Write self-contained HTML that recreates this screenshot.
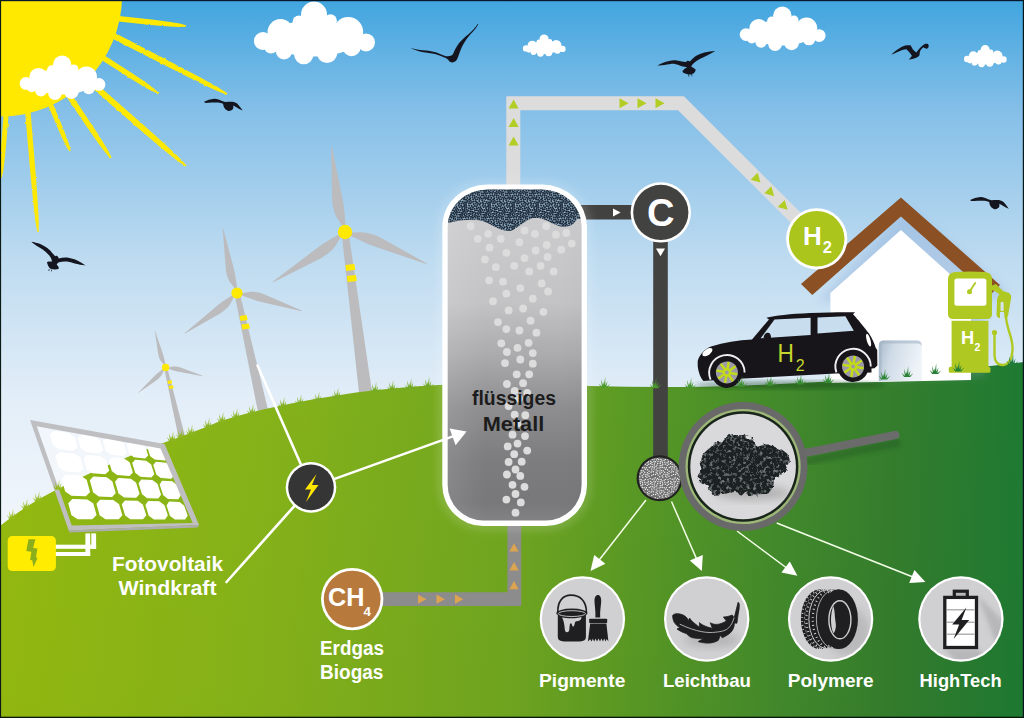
<!DOCTYPE html>
<html><head><meta charset="utf-8"><title>Methanpyrolyse</title>
<style>
html,body{margin:0;padding:0;background:#1b2a38;overflow:hidden}
svg{display:block}
text{font-family:"Liberation Sans",sans-serif;}
</style></head><body>
<svg width="1024" height="718" viewBox="0 0 1024 718">
<defs>
<linearGradient id="sky" gradientUnits="userSpaceOnUse" x1="0" y1="0" x2="0" y2="520">
<stop offset="0" stop-color="#41a5df"/>
<stop offset="0.21" stop-color="#84bfe8"/>
<stop offset="0.5" stop-color="#bedbf0"/>
<stop offset="0.77" stop-color="#e3eef8"/>
<stop offset="1" stop-color="#f0f5fb"/>
</linearGradient>
<linearGradient id="hill" x1="0" y1="0" x2="1" y2="0">
<stop offset="0" stop-color="#94ba10"/>
<stop offset="0.25" stop-color="#86b319"/>
<stop offset="0.5" stop-color="#70a620"/>
<stop offset="0.61" stop-color="#5b9a24"/>
<stop offset="0.75" stop-color="#448b2b"/>
<stop offset="0.875" stop-color="#347d2d"/>
<stop offset="1" stop-color="#1e7a32"/>
</linearGradient>
<linearGradient id="hillv" x1="0" y1="0" x2="0" y2="1">
<stop offset="0" stop-color="#000" stop-opacity="0"/>
<stop offset="1" stop-color="#000" stop-opacity="0.02"/>
</linearGradient>
<linearGradient id="tank" x1="0" y1="0" x2="0" y2="1">
<stop offset="0" stop-color="#d0d0d2"/>
<stop offset="0.35" stop-color="#c3c3c5"/>
<stop offset="0.5" stop-color="#ababad"/>
<stop offset="0.65" stop-color="#8e8e90"/>
<stop offset="0.8" stop-color="#7d7d7f"/>
<stop offset="0.92" stop-color="#78787a"/>
<stop offset="1" stop-color="#868688"/>
</linearGradient>
<pattern id="dots" width="3" height="3" patternUnits="userSpaceOnUse">
<rect width="3" height="3" fill="#a9c4d8"/>
<circle cx="1" cy="1" r="1.05" fill="#1f2f3f"/>
<circle cx="2.5" cy="2.5" r="0.8" fill="#1f2f3f"/>
</pattern>
<pattern id="dots2" width="2.4" height="2.4" patternUnits="userSpaceOnUse">
<rect width="2.4" height="2.4" fill="#8a8a8a"/>
<circle cx="1" cy="1" r="0.8" fill="#e8e8e8"/>
</pattern>
<filter id="blur2" x="-20%" y="-20%" width="140%" height="140%"><feGaussianBlur stdDeviation="2"/></filter>
<filter id="blur4" x="-30%" y="-30%" width="160%" height="160%"><feGaussianBlur stdDeviation="4"/></filter>
<filter id="blur1" x="-20%" y="-20%" width="140%" height="140%"><feGaussianBlur stdDeviation="0.8"/></filter>
<linearGradient id="tankh" x1="0" y1="0" x2="1" y2="0">
<stop offset="0" stop-color="#fff" stop-opacity="0.12"/>
<stop offset="0.3" stop-color="#fff" stop-opacity="0"/>
<stop offset="0.8" stop-color="#000" stop-opacity="0"/>
<stop offset="1" stop-color="#000" stop-opacity="0.02"/>
</linearGradient>
</defs>

<rect x="0" y="0" width="1024" height="718" fill="url(#sky)"/>
<filter id="crayon" x="-5%" y="-5%" width="110%" height="110%"><feTurbulence type="fractalNoise" baseFrequency="0.25" numOctaves="2" seed="2" result="t"/><feDisplacementMap in="SourceGraphic" in2="t" scale="2.2" xChannelSelector="R" yChannelSelector="G"/></filter>
<g fill="#ffe900" filter="url(#crayon)">
<path d="M114.8 20.9 L120.7 21.8 L153.2 25.2 L169.5 26.6 L179.3 27.1 L185.9 26.7 L186.1 25.3 L179.7 23.5 L170.0 21.9 L153.8 19.8 L121.3 16.2 L115.3 15.8 Z"/>
<path d="M109.4 36.7 L114.6 39.7 L170.2 68.1 L198.1 82.0 L215.0 90.0 L226.6 94.7 L227.4 93.3 L216.8 86.6 L200.4 77.5 L172.8 62.9 L117.4 34.3 L111.9 31.8 Z"/>
<path d="M98.6 57.9 L103.5 61.3 L130.1 78.2 L143.5 86.4 L151.8 91.0 L157.6 93.6 L158.4 92.4 L153.6 88.2 L146.0 82.6 L132.9 73.8 L106.5 56.7 L101.3 53.7 Z"/>
<path d="M92.6 88.2 L97.0 92.3 L140.6 130.2 L162.6 148.9 L176.0 159.8 L185.5 166.6 L186.5 165.4 L178.6 157.0 L165.9 145.1 L144.4 125.8 L101.0 87.7 L96.3 83.9 Z"/>
<path d="M66.6 96.4 L69.7 101.5 L89.3 130.5 L99.4 144.8 L105.7 153.1 L110.4 158.4 L111.6 157.6 L108.5 151.3 L103.1 142.2 L93.7 127.5 L74.3 98.5 L70.7 93.6 Z"/>
<path d="M47.6 103.4 L49.7 109.0 L58.8 130.4 L63.6 141.0 L66.8 147.3 L69.4 151.2 L70.6 150.8 L69.6 146.1 L67.4 139.5 L63.2 128.6 L54.3 107.0 L51.8 101.6 Z"/>
<path d="M25.0 108.2 L25.3 114.2 L30.4 173.2 L33.3 202.7 L35.3 220.3 L37.3 232.1 L38.7 231.9 L38.7 220.1 L37.7 202.3 L35.6 172.8 L30.7 113.8 L30.0 107.8 Z"/>
<path d="M4.2 109.8 L3.5 115.8 L1.1 146.8 L0.2 162.3 L-0.1 171.7 L0.4 177.9 L1.6 178.1 L3.1 171.9 L4.3 162.7 L5.9 147.2 L8.5 116.2 L8.8 110.2 Z"/>
</g>
<circle cx="0.5" cy="-5" r="121.6" fill="#ffe900"/>

<defs>
<g id="cloud" fill="#fff">
<circle cx="60" cy="11.6" r="13"/><circle cx="45" cy="18.9" r="6.4"/><circle cx="76.5" cy="17.7" r="6.4"/>
<circle cx="26.5" cy="29.1" r="13"/><circle cx="8.9" cy="38" r="9"/><circle cx="94.2" cy="29.1" r="15"/>
<circle cx="112" cy="39.4" r="9"/><circle cx="30" cy="48.3" r="8.2"/><circle cx="49.8" cy="51.7" r="9.6"/>
<circle cx="73" cy="49.6" r="10.4"/><circle cx="97.6" cy="44.2" r="9"/><circle cx="17" cy="43.5" r="7"/>
<ellipse cx="59.4" cy="35.5" rx="45" ry="18"/>
</g>
</defs>
<use href="#cloud" transform="translate(254,3)"/>
<use href="#cloud" transform="translate(19.7,56.5) scale(0.708)"/>
<use href="#cloud" transform="translate(739.8,7.6) scale(0.709)"/>
<use href="#cloud" transform="translate(522.9,35) scale(0.353)"/>
<use href="#cloud" transform="translate(964,45.6) scale(0.353)"/>

<g fill="#15151f">
<path d="M410.5 47.7 C416 49.5 421 50.2 426.4 50.6 C431 51 436 52.3 439.5 53.7 C443 55 446 56.6 447.9 56.3 C450 56 451.8 55.5 452.7 54.5 C454 52 455 49.5 456.2 47.5 C457.5 45 459.5 42.5 461.5 40.5 C464.5 37.5 467.5 35.2 470.3 32.6 C473.3 29.8 476 26.8 477.8 23.8 L478.3 24.3 C476.8 27 475 29.5 472.9 31.7 C470 34.8 467 38 465 41.4 C463 44.5 461.5 47.5 460.6 50.1 C459.5 53 458.8 55.5 457.6 58 C456.5 61 454.5 62.6 451.8 62.4 C450 62.2 448.8 61 448.3 59.8 C447 58.5 445.5 57.7 443.9 57.2 C441 56 438 55 435.1 54.1 C431 53 426.5 52.5 422 51.9 C418 51.2 414 49.8 410.5 47.7 Z"/>
<g id="bird2"><path d="M204.1 101.7 C207 100.4 210.5 99.2 214.3 98.8 C217 98.6 219.3 99.8 221.4 100.8 C223 101.5 224.3 101.9 225.5 102 C228.2 102 231 101.7 233.7 102 C235.6 102.4 237.2 103.4 238.4 104.9 C240 106.8 241.5 108.8 242.7 110.5 C240.7 109.8 238.8 108.8 237.2 107.8 C235.8 106.8 234.4 105.9 233.1 105.5 C233.6 107 233.4 108.7 232.5 109.6 C231.2 110.9 229.3 111.3 227.8 110.8 C226 110 225 109 224.3 107.8 C223.5 106.3 223.3 105 223.1 103.7 C221.7 103.3 220 102.9 218.4 102.6 C216 102.4 213.5 102.5 211.4 102.6 C209.5 102.8 207.8 102.9 206.1 102.9 C205 102.8 204.3 102.3 204.1 101.7 Z"/></g>
<use href="#bird2" transform="translate(766.1,98.2)"/>
<path d="M31.3 241.7 C34 242 37.5 243 40.3 244.1 C43 245.3 45.4 246.6 47.3 248 C49.3 249.5 50.8 251.2 52 252.7 C53.2 254 54.3 255.3 55.2 256.2 C56 255.7 56.9 255.7 57.5 256.2 C58.2 256.8 58.6 257.7 58.7 258.5 C62 257.5 65.3 257.3 68.4 257.7 C71.2 258.1 73.8 259 76.3 260.1 C79.5 261.7 82.7 263.6 85.6 265.5 C81.8 265.2 78.1 264.4 74.7 263.6 C72 262.8 69.4 262 66.9 261.6 C64 261.3 61 261.8 58.3 262.4 C57.6 263 57 263.7 56.7 264.4 C57.8 265.6 58.8 267 59.1 268.3 C57.8 269.2 56.2 269.6 54.4 269.5 C52.6 269.5 51 269 49.7 268.3 C48.3 266.4 47.3 264.2 47 262 C48.6 261.6 50.4 261.5 52 261.6 C51.8 260 51.3 258.6 50.5 257.3 C49.3 255.3 47.6 253.5 45.8 251.9 C43.9 250.2 41.7 248.8 39.5 247.6 C36.6 245.8 33.5 243.8 31.3 241.7 Z"/>
<path d="M49.2 269 L48.8 271 M51.6 269.4 L51.4 271.4" stroke="#15151f" stroke-width="0.7" fill="none"/>
<path d="M657.3 65.4 C659.5 64.2 662 63.1 664.5 62.3 C667.5 61.2 670.8 60.4 673.9 60.2 C676.7 60.2 679.3 60.9 681.7 61.5 C683.3 61.8 685 62 686.4 61.9 C686.5 61.2 686.8 60.8 687.2 60.7 C688.2 60.5 689.3 60.9 689.9 61.5 C691.7 59.5 693.7 57.6 695.8 56 C698.4 54.4 701.4 53.3 704.4 52.5 C708 51.6 711.7 51.1 715.3 50.9 C712.7 52.5 710 53.9 707.5 55.2 C704.8 56.5 702.2 57.7 699.7 59.1 C697.5 60.4 695.3 61.8 693.4 63.4 C692.5 64.3 691.7 65.4 691.1 66.6 C692.9 67.4 694.5 68.5 695.8 69.7 C695.5 71.2 694.6 72.5 693.4 73.6 C692 74.4 690.4 74.6 688.8 74.4 C686.8 74.3 684.9 73.7 683.3 72.8 C682.7 72.2 682.5 71.5 682.5 70.9 C683.8 69.4 685.4 68.2 687.2 67.3 C685.4 66.8 683.5 66.4 681.7 66.2 C679.2 65.2 676.5 64.2 673.9 63.8 C670.8 63.8 667.6 64.4 664.5 65 C662 65.4 659.5 65.6 657.3 65.4 Z"/>
<path d="M688.6 74.2 L688.8 76.6 M691.6 74 L692 76.3" stroke="#15151f" stroke-width="0.7" fill="none"/>
<path d="M891.4 54.6 C893.5 52.3 896 50.3 898.7 48.7 C900.8 47.4 903 46.2 905.2 45.5 C907 45.1 908.9 45 910.5 45.3 C911.3 46.6 912 48 912.8 49.3 C913.8 50.6 915 51.8 916.3 52.6 C917.5 50.8 918.9 49.1 920.4 47.6 C921.8 46.1 923.4 44.7 925.1 43.8 C926.1 43.5 927.2 43.6 928 44.1 C928.7 45 928.9 46 928.6 47 C928.3 47.9 927.7 48.5 926.9 48.7 C925.6 48.6 924.4 48 923.4 47.3 C922.2 48.2 921.2 49.3 920.4 50.5 C919.8 52 919.5 53.6 919.5 55.2 C918.7 56.4 917.6 57.3 916.3 57.8 C913.8 58.7 911.2 59.3 908.7 59.6 C910 58.5 911.2 57.2 911.9 55.8 C911.2 54.5 910.3 53.4 909.3 52.3 C908.5 51.2 907.5 50.1 906.4 49.3 C905 49.3 903.6 49.5 902.3 49.9 C900.3 50.7 898.3 51.6 896.4 52.6 C894.7 53.4 893 54.2 891.4 54.6 Z"/>
</g>

<!-- turbines (behind hill) -->
<g fill="#bcbcbe">
<path d="M341.5 232.0 L348.5 232.0 L373.2 400.0 L359.8 400.0 Z"/>
<path transform="translate(345.0 232.0) rotate(-8.9) scale(87.1)" d="M0.015 -0.05 C0.03 -0.2 0.036 -0.3 0.03 -0.4 L0.004 -1 L-0.004 -1 L-0.085 -0.42 C-0.1 -0.32 -0.09 -0.22 -0.055 -0.15 C-0.035 -0.11 -0.022 -0.08 -0.015 -0.05 Z"/>
<path transform="translate(345.0 232.0) rotate(111.3) scale(88.0)" d="M0.015 -0.05 C0.03 -0.2 0.036 -0.3 0.03 -0.4 L0.004 -1 L-0.004 -1 L-0.085 -0.42 C-0.1 -0.32 -0.09 -0.22 -0.055 -0.15 C-0.035 -0.11 -0.022 -0.08 -0.015 -0.05 Z"/>
<path transform="translate(345.0 232.0) rotate(-124.8) scale(87.7)" d="M0.015 -0.05 C0.03 -0.2 0.036 -0.3 0.03 -0.4 L0.004 -1 L-0.004 -1 L-0.085 -0.42 C-0.1 -0.32 -0.09 -0.22 -0.055 -0.15 C-0.035 -0.11 -0.022 -0.08 -0.015 -0.05 Z"/>
<path d="M234.3 293.0 L239.7 293.0 L271.0 422.0 L260.0 422.0 Z"/>
<path transform="translate(237.0 293.0) rotate(-12.3) scale(65.9)" d="M0.015 -0.05 C0.03 -0.2 0.036 -0.3 0.03 -0.4 L0.004 -1 L-0.004 -1 L-0.085 -0.42 C-0.1 -0.32 -0.09 -0.22 -0.055 -0.15 C-0.035 -0.11 -0.022 -0.08 -0.015 -0.05 Z"/>
<path transform="translate(237.0 293.0) rotate(105.5) scale(67.4)" d="M0.015 -0.05 C0.03 -0.2 0.036 -0.3 0.03 -0.4 L0.004 -1 L-0.004 -1 L-0.085 -0.42 C-0.1 -0.32 -0.09 -0.22 -0.055 -0.15 C-0.035 -0.11 -0.022 -0.08 -0.015 -0.05 Z"/>
<path transform="translate(237.0 293.0) rotate(-127.7) scale(66.4)" d="M0.015 -0.05 C0.03 -0.2 0.036 -0.3 0.03 -0.4 L0.004 -1 L-0.004 -1 L-0.085 -0.42 C-0.1 -0.32 -0.09 -0.22 -0.055 -0.15 C-0.035 -0.11 -0.022 -0.08 -0.015 -0.05 Z"/>
<path d="M164.0 367.5 L167.2 367.5 L186.5 442.0 L179.5 442.0 Z"/>
<path transform="translate(165.6 367.5) rotate(-16.2) scale(38.0)" d="M0.015 -0.05 C0.03 -0.2 0.036 -0.3 0.03 -0.4 L0.004 -1 L-0.004 -1 L-0.085 -0.42 C-0.1 -0.32 -0.09 -0.22 -0.055 -0.15 C-0.035 -0.11 -0.022 -0.08 -0.015 -0.05 Z"/>
<path transform="translate(165.6 367.5) rotate(102.9) scale(38.0)" d="M0.015 -0.05 C0.03 -0.2 0.036 -0.3 0.03 -0.4 L0.004 -1 L-0.004 -1 L-0.085 -0.42 C-0.1 -0.32 -0.09 -0.22 -0.055 -0.15 C-0.035 -0.11 -0.022 -0.08 -0.015 -0.05 Z"/>
<path transform="translate(165.6 367.5) rotate(-132.7) scale(37.6)" d="M0.015 -0.05 C0.03 -0.2 0.036 -0.3 0.03 -0.4 L0.004 -1 L-0.004 -1 L-0.085 -0.42 C-0.1 -0.32 -0.09 -0.22 -0.055 -0.15 C-0.035 -0.11 -0.022 -0.08 -0.015 -0.05 Z"/>
</g>
<g fill="#ffe900">
<circle cx="345" cy="232" r="7.2"/><circle cx="237" cy="293" r="5.6"/><circle cx="165.6" cy="367.5" r="3.7"/>
<path d="M345.4 265 L354.4 264 L355.2 270 L346.2 271 Z M346.8 276 L356 275 L356.8 281 L347.6 282 Z"/>
<path d="M239.6 316 L246.6 315 L247.6 320 L240.6 321 Z M241.4 324.5 L248.8 323.5 L249.8 328.5 L242.4 329.5 Z"/>
<path d="M167.4 381 L171.6 380.3 L172.2 383.3 L168 384 Z M168.6 386 L173 385.3 L173.6 388.3 L169.2 389 Z"/>
</g>

<path d="M36.7 426.3 L160.5 448.5 L192.7 523.1 L71.8 525.4 Z" fill="#fff" opacity="0.4"/>

<!-- hill -->
<path id="hillp" d="M0 526 C10 518 20 511 31 504 C60 486 110 463 163 443 C182 436 200 430 219 421.5 C236 416 252 412 270 408 C298 402 326 397 356 392.6 C384 389 412 386.5 438 385 C490 383 540 384.5 590 386 C620 386.8 650 387.2 680 387 C714 386.4 748 385.5 780 384 C813 382.4 846 380.8 876 379 C902 377 926 374.3 950 371 C975 367.8 1000 365 1024 362 L1024 718 L0 718 Z" fill="url(#hill)"/>
<path d="M0 526 C10 518 20 511 31 504 C60 486 110 463 163 443 C182 436 200 430 219 421.5 C236 416 252 412 270 408 C298 402 326 397 356 392.6 C384 389 412 386.5 438 385 C490 383 540 384.5 590 386 C620 386.8 650 387.2 680 387 C714 386.4 748 385.5 780 384 C813 382.4 846 380.8 876 379 C902 377 926 374.3 950 371 C975 367.8 1000 365 1024 362 L1024 718 L0 718 Z" fill="url(#hillv)"/>

<!-- light pipe to H2 -->
<path d="M513.3 190 L513.3 103.2 L681 103.2 L800 222" fill="none" stroke="#dcdcdc" stroke-width="14" stroke-linejoin="miter"/>
<g fill="#b2ce24">
<path d="M508.6 108.5 L518.6 108.5 L513.6 99.5 Z M508.6 127 L518.6 127 L513.6 118 Z M508.6 145.5 L518.6 145.5 L513.6 136.5 Z"/>
<path d="M619.5 98.2 L619.5 108.2 L628.5 103.2 Z M637.5 98.2 L637.5 108.2 L646.5 103.2 Z M655.5 98.2 L655.5 108.2 L664.5 103.2 Z"/>
<g transform="translate(757.3,179.4) rotate(45)"><path d="M-4.5 -5 L-4.5 5 L4.5 0 Z"/></g>
<g transform="translate(771,193) rotate(45)"><path d="M-4.5 -5 L-4.5 5 L4.5 0 Z"/></g>
<g transform="translate(784.4,206.6) rotate(45)"><path d="M-4.5 -5 L-4.5 5 L4.5 0 Z"/></g>
</g>
<!-- dark pipes -->
<path d="M580 212.3 L660 212.3" stroke="#424241" stroke-width="14.6" fill="none"/>
<path d="M660.5 212 L660.5 470" stroke="#424241" stroke-width="14.6" fill="none"/>
<path d="M613 208.4 L613 216.4 L620.6 212.4 Z" fill="#fff"/>
<path d="M656 248.6 L665 248.6 L660.5 256.2 Z" fill="#fff"/>
<!-- CH4 pipe -->
<path d="M352 599.2 L514.3 599.2 L514.3 520" fill="none" stroke="#8c8c8c" stroke-width="13.8" stroke-linejoin="miter"/>
<g fill="#dca450">
<path d="M418 594.6 L418 603.8 L426.4 599.2 Z M436.5 594.6 L436.5 603.8 L444.9 599.2 Z M455 594.6 L455 603.8 L463.4 599.2 Z"/>
<path d="M509.4 551.6 L518.6 551.6 L514 543.2 Z M509.4 570.4 L518.6 570.4 L514 562 Z M509.4 589.3 L518.6 589.3 L514 580.9 Z"/>
</g>

<!-- tank -->
<defs><pattern id="rdots" width="24" height="24" patternUnits="userSpaceOnUse"><rect width="24" height="24" fill="#9fbdd4"/><g fill="#1c2a39"><circle cx="14.9" cy="17.8" r="1.05"/><circle cx="19.1" cy="22.6" r="1.05"/><circle cx="0.7" cy="11.2" r="1.05"/><circle cx="24.7" cy="11.2" r="1.05"/><circle cx="22.6" cy="15.6" r="1.05"/><circle cx="21.6" cy="2.7" r="1.05"/><circle cx="11.3" cy="5.9" r="1.05"/><circle cx="13.1" cy="13.8" r="1.05"/><circle cx="0.3" cy="5.2" r="1.05"/><circle cx="24.3" cy="5.2" r="1.05"/><circle cx="6.7" cy="22.0" r="1.05"/><circle cx="18.4" cy="3.8" r="1.05"/><circle cx="14.8" cy="3.0" r="1.05"/><circle cx="0.0" cy="20.9" r="1.05"/><circle cx="24.0" cy="20.9" r="1.05"/><circle cx="5.0" cy="5.2" r="1.05"/><circle cx="12.9" cy="16.3" r="1.05"/><circle cx="4.9" cy="22.6" r="1.05"/><circle cx="16.6" cy="-0.8" r="1.05"/><circle cx="16.6" cy="23.2" r="1.05"/><circle cx="21.4" cy="7.2" r="1.05"/><circle cx="8.7" cy="4.0" r="1.05"/><circle cx="3.5" cy="1.6" r="1.05"/><circle cx="7.2" cy="14.5" r="1.05"/><circle cx="8.1" cy="7.4" r="1.05"/><circle cx="19.6" cy="11.5" r="1.05"/><circle cx="7.6" cy="11.5" r="1.05"/><circle cx="16.9" cy="1.4" r="1.05"/><circle cx="-0.6" cy="0.5" r="1.05"/><circle cx="-0.6" cy="24.5" r="1.05"/><circle cx="23.4" cy="0.5" r="1.05"/><circle cx="23.4" cy="24.5" r="1.05"/><circle cx="18.0" cy="20.3" r="1.05"/><circle cx="0.4" cy="18.9" r="1.05"/><circle cx="24.4" cy="18.9" r="1.05"/><circle cx="4.7" cy="18.1" r="1.05"/><circle cx="22.3" cy="22.6" r="1.05"/><circle cx="12.6" cy="18.6" r="1.05"/><circle cx="2.6" cy="18.0" r="1.05"/><circle cx="0.9" cy="22.7" r="1.05"/><circle cx="24.9" cy="22.7" r="1.05"/><circle cx="2.2" cy="8.2" r="1.05"/><circle cx="14.7" cy="22.0" r="1.05"/><circle cx="13.1" cy="7.5" r="1.05"/><circle cx="1.9" cy="3.6" r="1.05"/><circle cx="-0.3" cy="12.8" r="1.05"/><circle cx="23.7" cy="12.8" r="1.05"/><circle cx="14.3" cy="19.8" r="1.05"/><circle cx="10.9" cy="10.1" r="1.05"/><circle cx="2.6" cy="10.4" r="1.05"/><circle cx="3.6" cy="20.3" r="1.05"/><circle cx="9.0" cy="-0.3" r="1.05"/><circle cx="9.0" cy="23.7" r="1.05"/><circle cx="8.7" cy="18.9" r="1.05"/><circle cx="18.6" cy="16.7" r="1.05"/><circle cx="8.7" cy="16.9" r="1.05"/><circle cx="15.6" cy="13.9" r="1.05"/><circle cx="6.0" cy="16.1" r="1.05"/><circle cx="11.1" cy="19.6" r="1.05"/><circle cx="20.9" cy="16.5" r="1.05"/><circle cx="22.5" cy="11.5" r="1.05"/><circle cx="16.6" cy="17.3" r="1.05"/><circle cx="18.7" cy="13.9" r="1.05"/><circle cx="16.0" cy="10.1" r="1.05"/><circle cx="10.6" cy="15.6" r="1.05"/><circle cx="15.1" cy="1.0" r="1.05"/><circle cx="15.1" cy="25.0" r="1.05"/><circle cx="6.7" cy="9.8" r="1.05"/><circle cx="14.6" cy="8.4" r="1.05"/><circle cx="2.6" cy="13.6" r="1.05"/><circle cx="9.0" cy="10.4" r="1.05"/><circle cx="5.4" cy="7.0" r="1.05"/><circle cx="-0.7" cy="9.1" r="1.05"/><circle cx="23.3" cy="9.1" r="1.05"/><circle cx="14.3" cy="6.2" r="1.05"/><circle cx="10.0" cy="7.7" r="1.05"/><circle cx="18.8" cy="5.9" r="1.05"/><circle cx="6.4" cy="3.7" r="1.05"/><circle cx="-0.3" cy="7.0" r="1.05"/><circle cx="23.7" cy="7.0" r="1.05"/><circle cx="14.6" cy="11.4" r="1.05"/><circle cx="10.9" cy="22.0" r="1.05"/><circle cx="21.3" cy="13.1" r="1.05"/><circle cx="10.3" cy="13.8" r="1.05"/><circle cx="17.0" cy="15.2" r="1.05"/><circle cx="20.4" cy="4.7" r="1.05"/><circle cx="7.1" cy="19.9" r="1.05"/><circle cx="19.5" cy="1.6" r="1.05"/><circle cx="1.7" cy="1.4" r="1.05"/><circle cx="1.3" cy="16.7" r="1.05"/><circle cx="3.6" cy="15.2" r="1.05"/><circle cx="12.4" cy="3.2" r="1.05"/><circle cx="17.8" cy="9.5" r="1.05"/><circle cx="3.7" cy="3.8" r="1.05"/><circle cx="5.6" cy="11.6" r="1.05"/><circle cx="5.5" cy="1.9" r="1.05"/><circle cx="13.2" cy="-0.2" r="1.05"/><circle cx="13.2" cy="23.8" r="1.05"/><circle cx="9.5" cy="1.4" r="1.05"/><circle cx="7.3" cy="1.2" r="1.05"/><circle cx="19.7" cy="7.5" r="1.05"/><circle cx="22.5" cy="19.1" r="1.05"/><circle cx="20.4" cy="14.8" r="1.05"/><circle cx="4.4" cy="9.3" r="1.05"/><circle cx="17.1" cy="7.4" r="1.05"/><circle cx="19.9" cy="21.1" r="1.05"/><circle cx="11.5" cy="8.5" r="1.05"/><circle cx="1.8" cy="6.5" r="1.05"/><circle cx="12.4" cy="1.3" r="1.05"/><circle cx="10.1" cy="12.1" r="1.05"/><circle cx="10.8" cy="17.7" r="1.05"/><circle cx="21.0" cy="10.5" r="1.05"/><circle cx="3.5" cy="6.4" r="1.05"/><circle cx="6.8" cy="17.9" r="1.05"/><circle cx="-0.6" cy="3.1" r="1.05"/><circle cx="23.4" cy="3.1" r="1.05"/><circle cx="17.6" cy="12.1" r="1.05"/><circle cx="19.0" cy="18.5" r="1.05"/><circle cx="12.8" cy="11.5" r="1.05"/><circle cx="16.5" cy="5.2" r="1.05"/><circle cx="10.6" cy="3.6" r="1.05"/><circle cx="9.4" cy="20.6" r="1.05"/><circle cx="14.7" cy="16.1" r="1.05"/><circle cx="3.2" cy="22.7" r="1.05"/><circle cx="20.5" cy="-0.3" r="1.05"/><circle cx="20.5" cy="23.7" r="1.05"/><circle cx="7.0" cy="6.1" r="1.05"/><circle cx="22.3" cy="5.5" r="1.05"/><circle cx="5.1" cy="13.9" r="1.05"/><circle cx="16.1" cy="19.7" r="1.05"/><circle cx="19.8" cy="9.3" r="1.05"/><circle cx="8.7" cy="5.8" r="1.05"/><circle cx="1.8" cy="20.4" r="1.05"/><circle cx="0.5" cy="15.1" r="1.05"/><circle cx="24.5" cy="15.1" r="1.05"/><circle cx="13.0" cy="21.8" r="1.05"/><circle cx="16.6" cy="21.4" r="1.05"/><circle cx="20.9" cy="18.3" r="1.05"/><circle cx="3.4" cy="11.9" r="1.05"/><circle cx="4.6" cy="0.3" r="1.05"/><circle cx="4.6" cy="24.3" r="1.05"/><circle cx="13.6" cy="4.5" r="1.05"/><circle cx="10.8" cy="0.2" r="1.05"/><circle cx="10.8" cy="24.2" r="1.05"/><circle cx="8.4" cy="22.1" r="1.05"/><circle cx="8.5" cy="13.1" r="1.05"/><circle cx="-0.3" cy="17.3" r="1.05"/><circle cx="23.7" cy="17.3" r="1.05"/><circle cx="8.9" cy="15.0" r="1.05"/><circle cx="21.8" cy="21.0" r="1.05"/><circle cx="5.5" cy="20.7" r="1.05"/><circle cx="16.7" cy="3.2" r="1.05"/><circle cx="18.5" cy="0.2" r="1.05"/><circle cx="18.5" cy="24.2" r="1.05"/><circle cx="6.3" cy="-0.3" r="1.05"/><circle cx="6.3" cy="23.7" r="1.05"/><circle cx="21.8" cy="1.0" r="1.05"/><circle cx="21.8" cy="25.0" r="1.05"/><circle cx="13.3" cy="9.7" r="1.05"/></g></pattern>
<pattern id="rdots2" width="20" height="20" patternUnits="userSpaceOnUse"><rect width="20" height="20" fill="#6e6e6e"/><g fill="#ececec"><circle cx="9.3" cy="7.5" r="0.72"/><circle cx="2.8" cy="17.3" r="0.72"/><circle cx="0.1" cy="10.1" r="0.72"/><circle cx="20.1" cy="10.1" r="0.72"/><circle cx="18.0" cy="1.6" r="0.72"/><circle cx="11.1" cy="12.3" r="0.72"/><circle cx="0.8" cy="7.6" r="0.72"/><circle cx="14.1" cy="9.0" r="0.72"/><circle cx="14.5" cy="3.1" r="0.72"/><circle cx="4.8" cy="2.2" r="0.72"/><circle cx="10.1" cy="18.5" r="0.72"/><circle cx="11.8" cy="15.5" r="0.72"/><circle cx="7.7" cy="14.9" r="0.72"/><circle cx="2.0" cy="5.8" r="0.72"/><circle cx="13.5" cy="14.5" r="0.72"/><circle cx="8.4" cy="1.8" r="0.72"/><circle cx="5.3" cy="4.2" r="0.72"/><circle cx="5.6" cy="16.2" r="0.72"/><circle cx="7.6" cy="9.8" r="0.72"/><circle cx="11.9" cy="2.4" r="0.72"/><circle cx="4.1" cy="0.2" r="0.72"/><circle cx="4.1" cy="20.2" r="0.72"/><circle cx="1.7" cy="10.8" r="0.72"/><circle cx="0.3" cy="1.7" r="0.72"/><circle cx="20.3" cy="1.7" r="0.72"/><circle cx="12.2" cy="19.2" r="0.72"/><circle cx="14.1" cy="19.0" r="0.72"/><circle cx="4.7" cy="12.2" r="0.72"/><circle cx="13.5" cy="11.8" r="0.72"/><circle cx="15.5" cy="1.7" r="0.72"/><circle cx="6.9" cy="17.3" r="0.72"/><circle cx="11.7" cy="9.0" r="0.72"/><circle cx="8.0" cy="-0.3" r="0.72"/><circle cx="8.0" cy="19.7" r="0.72"/><circle cx="16.0" cy="6.6" r="0.72"/><circle cx="8.7" cy="4.3" r="0.72"/><circle cx="1.8" cy="12.6" r="0.72"/><circle cx="2.1" cy="15.7" r="0.72"/><circle cx="16.2" cy="9.9" r="0.72"/><circle cx="14.2" cy="5.0" r="0.72"/><circle cx="16.9" cy="5.2" r="0.72"/><circle cx="1.0" cy="-0.5" r="0.72"/><circle cx="1.0" cy="19.5" r="0.72"/><circle cx="-0.3" cy="12.1" r="0.72"/><circle cx="19.7" cy="12.1" r="0.72"/><circle cx="4.2" cy="7.8" r="0.72"/><circle cx="7.1" cy="2.8" r="0.72"/><circle cx="13.9" cy="1.3" r="0.72"/><circle cx="17.7" cy="3.4" r="0.72"/><circle cx="2.0" cy="1.0" r="0.72"/><circle cx="10.6" cy="3.5" r="0.72"/><circle cx="0.3" cy="3.5" r="0.72"/><circle cx="20.3" cy="3.5" r="0.72"/><circle cx="9.1" cy="11.2" r="0.72"/><circle cx="17.8" cy="10.9" r="0.72"/><circle cx="6.0" cy="14.5" r="0.72"/><circle cx="-0.3" cy="16.7" r="0.72"/><circle cx="19.7" cy="16.7" r="0.72"/><circle cx="18.8" cy="-0.5" r="0.72"/><circle cx="18.8" cy="19.5" r="0.72"/><circle cx="7.4" cy="12.7" r="0.72"/><circle cx="12.1" cy="4.4" r="0.72"/><circle cx="17.5" cy="18.4" r="0.72"/><circle cx="5.5" cy="9.2" r="0.72"/><circle cx="3.4" cy="10.9" r="0.72"/><circle cx="3.8" cy="14.2" r="0.72"/><circle cx="12.5" cy="6.8" r="0.72"/><circle cx="15.2" cy="17.7" r="0.72"/><circle cx="10.8" cy="6.7" r="0.72"/><circle cx="10.7" cy="1.4" r="0.72"/><circle cx="16.5" cy="-0.1" r="0.72"/><circle cx="16.5" cy="19.9" r="0.72"/><circle cx="7.2" cy="5.4" r="0.72"/><circle cx="6.4" cy="7.7" r="0.72"/><circle cx="0.2" cy="13.7" r="0.72"/><circle cx="20.2" cy="13.7" r="0.72"/><circle cx="17.3" cy="13.5" r="0.72"/><circle cx="18.2" cy="15.1" r="0.72"/><circle cx="9.0" cy="13.6" r="0.72"/><circle cx="12.0" cy="10.9" r="0.72"/><circle cx="2.7" cy="4.2" r="0.72"/><circle cx="19.2" cy="7.9" r="0.72"/><circle cx="14.2" cy="7.2" r="0.72"/><circle cx="5.5" cy="-0.6" r="0.72"/><circle cx="5.5" cy="19.4" r="0.72"/><circle cx="15.6" cy="14.5" r="0.72"/><circle cx="0.2" cy="5.7" r="0.72"/><circle cx="20.2" cy="5.7" r="0.72"/><circle cx="9.0" cy="16.3" r="0.72"/><circle cx="2.4" cy="7.6" r="0.72"/><circle cx="2.4" cy="2.6" r="0.72"/><circle cx="17.1" cy="8.1" r="0.72"/><circle cx="16.2" cy="12.2" r="0.72"/></g></pattern>
</defs>
<path d="M442.3 226.5 A45.0 42.0 0 0 1 487.3 184.5 L542.0 184.5 A45.0 42.0 0 0 1 587.0 226.5 L587.0 485.0 A41.0 41.0 0 0 1 546.0 526.0 L483.3 526.0 A41.0 41.0 0 0 1 442.3 485.0 Z" fill="none" stroke="#fff" stroke-width="8" opacity="0.18" filter="url(#blur4)"/>
<path d="M442.3 226.5 A45.0 42.0 0 0 1 487.3 184.5 L542.0 184.5 A45.0 42.0 0 0 1 587.0 226.5 L587.0 485.0 A41.0 41.0 0 0 1 546.0 526.0 L483.3 526.0 A41.0 41.0 0 0 1 442.3 485.0 Z" fill="#fff"/>
<clipPath id="tankclip"><path d="M447.7 226.5 A40.0 37.0 0 0 1 487.7 189.5 L541.6 189.5 A40.0 37.0 0 0 1 581.6 226.5 L581.6 484.9 A35.5 35.5 0 0 1 546.1 520.4 L483.2 520.4 A35.5 35.5 0 0 1 447.7 484.9 Z"/></clipPath>
<g clip-path="url(#tankclip)">
<rect x="440" y="180" width="150" height="350" fill="url(#tank)"/>
<rect x="440" y="180" width="150" height="350" fill="url(#tankh)"/>
<g fill="#dcdcdc"><circle cx="470.7" cy="226.0" r="3.9"/><circle cx="488.2" cy="233.8" r="3.9"/><circle cx="477.7" cy="238.8" r="3.9"/><circle cx="500.8" cy="238.8" r="3.9"/><circle cx="524.5" cy="230.5" r="3.9"/><circle cx="535.0" cy="233.8" r="3.9"/><circle cx="546.2" cy="226.0" r="3.9"/><circle cx="555.9" cy="234.7" r="3.9"/><circle cx="566.2" cy="233.0" r="3.9"/><circle cx="571.8" cy="243.6" r="3.9"/><circle cx="519.4" cy="242.2" r="3.9"/><circle cx="546.7" cy="245.0" r="3.9"/><circle cx="561.2" cy="249.7" r="3.9"/><circle cx="489.6" cy="247.7" r="3.9"/><circle cx="506.4" cy="252.8" r="3.9"/><circle cx="535.6" cy="250.5" r="3.9"/><circle cx="484.9" cy="259.4" r="3.9"/><circle cx="524.5" cy="258.1" r="3.9"/><circle cx="547.6" cy="256.9" r="3.9"/><circle cx="495.8" cy="267.2" r="3.9"/><circle cx="514.2" cy="265.8" r="3.9"/><circle cx="540.6" cy="265.8" r="3.9"/><circle cx="529.2" cy="271.4" r="3.9"/><circle cx="553.7" cy="271.4" r="3.9"/><circle cx="489.1" cy="280.3" r="3.9"/><circle cx="503.0" cy="281.7" r="3.9"/><circle cx="520.3" cy="288.1" r="3.9"/><circle cx="541.7" cy="283.4" r="3.9"/><circle cx="548.1" cy="291.5" r="3.9"/><circle cx="506.4" cy="293.7" r="3.9"/><circle cx="532.8" cy="298.7" r="3.9"/><circle cx="493.0" cy="301.2" r="3.9"/><circle cx="508.6" cy="310.4" r="3.9"/><circle cx="523.1" cy="308.5" r="3.9"/><circle cx="543.4" cy="311.8" r="3.9"/><circle cx="498.0" cy="322.1" r="3.9"/><circle cx="530.6" cy="320.7" r="3.9"/><circle cx="506.4" cy="329.1" r="3.9"/><circle cx="519.4" cy="330.5" r="3.9"/><circle cx="536.4" cy="332.7" r="3.9"/><circle cx="501.3" cy="343.3" r="3.9"/><circle cx="528.6" cy="342.8" r="3.9"/><circle cx="517.5" cy="347.8" r="3.9"/><circle cx="506.9" cy="352.0" r="3.9"/><circle cx="532.8" cy="353.1" r="3.9"/><circle cx="520.3" cy="359.5" r="3.9"/><circle cx="505.0" cy="363.1" r="3.9"/><circle cx="532.8" cy="363.7" r="3.9"/><circle cx="516.7" cy="374.3" r="3.9"/><circle cx="529.2" cy="374.3" r="3.9"/><circle cx="506.9" cy="384.0" r="3.9"/><circle cx="523.1" cy="383.2" r="3.9"/><circle cx="514.7" cy="391.0" r="3.9"/><circle cx="527.2" cy="392.9" r="3.9"/><circle cx="518.9" cy="398.5" r="3.9"/><circle cx="508.6" cy="406.0" r="3.9"/><circle cx="514.7" cy="414.7" r="3.9"/><circle cx="525.3" cy="415.2" r="3.9"/><circle cx="517.5" cy="423.6" r="3.9"/><circle cx="512.5" cy="434.7" r="3.9"/><circle cx="525.0" cy="436.1" r="3.9"/><circle cx="517.5" cy="443.6" r="3.9"/><circle cx="507.7" cy="446.4" r="3.9"/><circle cx="527.2" cy="450.6" r="3.9"/><circle cx="514.2" cy="454.2" r="3.9"/><circle cx="508.6" cy="462.0" r="3.9"/><circle cx="521.7" cy="461.7" r="3.9"/><circle cx="515.5" cy="469.5" r="3.9"/><circle cx="506.9" cy="474.5" r="3.9"/><circle cx="520.3" cy="475.9" r="3.9"/><circle cx="512.5" cy="484.8" r="3.9"/><circle cx="524.5" cy="486.8" r="3.9"/><circle cx="515.5" cy="494.0" r="3.9"/><circle cx="506.4" cy="499.6" r="3.9"/><circle cx="520.8" cy="502.4" r="3.9"/><circle cx="515.5" cy="512.7" r="3.9"/></g>
<path d="M440 170 L590 170 L590 219 L577.4 219 C574 223 572 225.3 570.4 225.5 C566 227 563 227 559.3 226.3 C554 224.5 550 221.5 545.3 219.9 C541 218 535 217.5 531.4 218.5 C526 220.5 522 224.5 517.5 226.9 C514 230 510 231.5 506.4 231 C501 230 496 227.5 492.4 225.5 C487 222 481 220 475.7 219.9 C466 219.5 457 221 449.2 222.7 L440 224 Z" fill="url(#rdots)"/>
</g>

<!-- white lines from lightning circle -->
<g stroke="#fff" stroke-width="2.6" fill="none" stroke-linecap="round">
<path d="M257.5 365.5 L311 487.4"/>
<path d="M311 487.4 L226.5 582"/>
<path d="M311 487.4 L455 435.6"/>
</g>
<path d="M466.6 431.4 L449.6 428.4 L455.6 445.2 Z" fill="#fff"/>
<!-- lightning circle -->
<circle cx="311" cy="487.4" r="25.3" fill="#fff"/>
<circle cx="311" cy="487.4" r="22.8" fill="#353535"/>
<path d="M316.5 474 L305 489.5 L311 489.5 L306 502 L318.5 485 L312 485 Z" fill="#ffe600"/>
<!-- C circle -->
<circle cx="660.8" cy="212.4" r="30.2" fill="#fff"/>
<circle cx="660.8" cy="212.4" r="27.6" fill="#424241"/>
<text x="660.8" y="226" font-size="38" font-weight="bold" fill="#fff" text-anchor="middle">C</text>
<!-- CH4 circle -->
<circle cx="352.2" cy="599.1" r="31.2" fill="#fff"/>
<circle cx="352.2" cy="599.1" r="28.4" fill="#b87a3c"/>
<text x="346.2" y="606.3" font-size="25" font-weight="bold" fill="#fff" text-anchor="middle" textLength="36.5" lengthAdjust="spacingAndGlyphs">CH</text>
<text x="367.3" y="616" font-size="13.5" font-weight="bold" fill="#fff" text-anchor="middle">4</text>

<!-- house shadow -->
<g opacity="0.3" filter="url(#blur4)" fill="#8aa2d2">
<path d="M908 206 L1008 292 L1000 300 L985 300 L985 376 L842 380 L842 300 L818 302 Z"/>
</g>
<!-- house body -->
<path d="M830.4 293 L900.9 230 L971 293 L971 380 L830.4 383 Z" fill="#fff"/>
<!-- roof -->
<path d="M900.9 197.5 L1000 285 L989.5 295.5 L900.9 216.5 L812.3 295 L801 284 Z" fill="#8b5023"/>
<!-- door -->
<linearGradient id="door" x1="0" y1="0" x2="1" y2="0.25"><stop offset="0" stop-color="#a9b9ca"/><stop offset="0.35" stop-color="#cfdbe7"/><stop offset="1" stop-color="#eef3f8"/></linearGradient>
<path d="M878.8 345.4 Q878.8 340.6 883.8 340.6 L916.7 340.6 Q921.7 340.6 921.7 345.4 L921.7 381 L878.8 381 Z" fill="url(#door)"/>
<path d="M878.8 345.4 Q878.8 340.6 883.8 340.6 L916.7 340.6 Q921.7 340.6 921.7 345.4 L921.7 347 Q921.7 343.4 916.7 343.4 L885 343.4 Q881.6 343.4 881.6 347 L881.6 381 L878.8 381 Z" fill="#9fb0c2" opacity="0.55"/>

<!-- H2 circle -->
<circle cx="816.7" cy="238.8" r="30.6" fill="#fff"/>
<circle cx="816.7" cy="238.8" r="27.8" fill="#abc51c"/>
<text x="812.5" y="245" font-size="26" font-weight="bold" fill="#fff" text-anchor="middle">H</text>
<text x="827.4" y="252.8" font-size="16.5" font-weight="bold" fill="#fff" text-anchor="middle">2</text>

<!-- pump -->
<g fill="#b0c922">
<path d="M948 279 Q948 272.5 955 272 Q970 270.8 985 272 Q992 272.5 992 279 L992 314 Q992 319 987 319 L953 319 Q948 319 948 314 Z"/>
<rect x="951.6" y="320.8" width="36.8" height="48"/>
<rect x="948.8" y="366.8" width="41.6" height="6" rx="1.5"/>
<path d="M992 285.5 L996 284 L1003 291 L1009 293 Q1012 295 1011 299 L1008 316 Q1007 318.5 1004.5 318 L1004 312 L1000 312 L1000 318 Q996.5 318 996.5 314 L997 301 Q997 296.5 999.5 294.5 L994 290.5 L992 290.5 Z"/>
<path d="M1006 316 C1006 328 1013.5 338 1012.5 350 C1012 358 1010 364 1003.5 365 C997.5 365.5 994.5 361 994.5 355 L994.5 334" fill="none" stroke="#b0c922" stroke-width="2.4"/>
<circle cx="994.5" cy="332.5" r="2.6"/>
</g>
<rect x="1000.6" y="302" width="3" height="9" rx="1" fill="#d6e3ee"/>
<rect x="954.4" y="278.6" width="32" height="27.2" rx="2.5" fill="#fff"/>
<circle cx="969.5" cy="291.8" r="2.5" fill="#b0c922"/>
<path d="M969.5 291.8 L975.2 283" stroke="#b0c922" stroke-width="1.8" stroke-linecap="round"/>
<text x="967.6" y="344.4" font-size="18" font-weight="bold" fill="#fff" text-anchor="middle" textLength="13.2" lengthAdjust="spacingAndGlyphs">H</text>
<text x="977.3" y="351" font-size="10.5" font-weight="bold" fill="#fff" text-anchor="middle">2</text>

<!-- car -->
<ellipse cx="790" cy="385" rx="95" ry="4" fill="#0b3b14" opacity="0.4" filter="url(#blur2)"/>
<path fill="#17151a" d="M766.4 317.7 C775 315.6 790 314 810 313 C830 312.2 845 312 855 312.3 L853 314.2 C858 319.5 864.5 327.5 869 333.5 C872 338 874.5 343.5 875.6 347.6 L877.2 350 L877.4 365.5 L874.5 368.3 L871.5 368.6 L871.5 372.5 L836 373.6 L744 378.6 L710 380.6 L703.5 381 C700.5 378 698.4 372 697.7 366 L697.7 361 C698.5 357.5 700.5 354.5 703 352 C705 349.5 708 347.6 711 346.6 C724 342.3 738 340.4 752 339.6 C757.5 333 763.5 325.5 769 319.4 Z"/>
<!-- wheel arches (white rings) -->
<path d="M710.6 379.6 A17.7 17.7 0 1 1 744.6 372.4" fill="none" stroke="#eeeef2" stroke-width="1.9"/>
<path d="M836.4 372.4 A17.7 17.7 0 1 1 870.8 366.4" fill="none" stroke="#eeeef2" stroke-width="1.9"/>
<!-- windows -->
<path d="M774.5 319.4 L810.6 317.8 L810.6 335 L760.6 338.3 Z" fill="#c8deee"/>
<path d="M817.5 317.4 L845.4 316.3 L853.8 330.8 L817.5 333.6 Z" fill="#c8deee"/>
<path d="M763.6 338.6 C763.4 334.6 766 332.6 768.2 332.7 C770.4 333 771 335.6 771 338 Z" fill="#17151a"/>
<!-- lights -->
<ellipse cx="707.4" cy="352.2" rx="5.8" ry="3" transform="rotate(-35 707.4 352.2)" fill="#fff"/>
<ellipse cx="868.6" cy="340.2" rx="1.9" ry="6.6" transform="rotate(-16 868.6 340.2)" fill="#fff"/>
<!-- wheels -->
<defs><g id="whl">
<circle cx="0" cy="0" r="15.5" fill="#17151a"/>
<circle cx="0" cy="0" r="11" fill="#9c9aa6"/>
<g stroke="#c3da18" stroke-width="2.5"><path d="M0 -10.6 L0 10.6 M-10.6 0 L10.6 0 M-7.5 -7.5 L7.5 7.5 M-7.5 7.5 L7.5 -7.5"/></g>
<circle cx="0" cy="0" r="4.2" fill="#c3da18"/>
<circle cx="0" cy="0" r="1.9" fill="#9c9aa6"/>
</g></defs>
<use href="#whl" transform="translate(726.9,372.4) rotate(10)"/>
<use href="#whl" transform="translate(853.1,366.5) rotate(10)"/>
<text x="785.8" y="362" font-size="25" fill="#c5d72d" text-anchor="middle" textLength="16.4" lengthAdjust="spacingAndGlyphs">H</text>
<text x="800.3" y="370.6" font-size="16" fill="#c5d72d" text-anchor="middle">2</text>

<!-- arrows to icons -->
<g stroke="#f4ffe8" stroke-width="1.5" fill="none">
<path d="M646 500 L598 561.5"/>
<path d="M671.5 501.5 L697.5 561"/>
<path d="M737 531 L788 569"/>
<path d="M776.7 523 L913 577"/>
</g>
<g fill="#fff">
<path d="M590.5 571 L594.2 555 L605.4 563.8 Z"/>
<path d="M701.8 571 L689.8 560.6 L702.8 555 Z"/>
<path d="M797.4 575.8 L781.4 572.6 L789.8 561.4 Z"/>
<path d="M925.4 582 L909.2 583 L914.4 570 Z"/>
</g>
<!-- handle -->
<path d="M806 456 L895 438" stroke="#1d4d20" stroke-width="8" stroke-linecap="round" opacity="0.35" filter="url(#blur2)" transform="translate(2,5)"/>
<path d="M800 454 L895.4 435" stroke="#6b6b6b" stroke-width="8" stroke-linecap="round"/>
<!-- small dotted circle -->
<circle cx="659.6" cy="478.2" r="23" fill="#222"/>
<circle cx="659.6" cy="478.2" r="20.8" fill="url(#rdots2)"/>
<!-- magnifier -->
<circle cx="743.1" cy="466.5" r="64.4" fill="#696969"/>
<circle cx="743.1" cy="466.5" r="57.6" fill="#9cb777"/>
<circle cx="743.1" cy="466.5" r="55.3" fill="#18241a"/>
<circle cx="743.1" cy="466.5" r="52.8" fill="#d9d9db"/>
<ellipse cx="752" cy="493" rx="38" ry="7" fill="#8a8a8a" opacity="0.5" filter="url(#blur4)"/>
<filter id="rough" x="-8%" y="-8%" width="116%" height="116%">
<feTurbulence type="fractalNoise" baseFrequency="0.16" numOctaves="2" seed="11" result="d"/>
<feDisplacementMap in="SourceGraphic" in2="d" scale="7" xChannelSelector="R" yChannelSelector="G" result="shape"/>
<feTurbulence type="fractalNoise" baseFrequency="0.3" numOctaves="3" seed="4" result="n"/>
<feColorMatrix in="n" type="matrix" values="0 0 0 0 0.3  0 0 0 0 0.33  0 0 0 0 0.35  1.5 1.5 0 0 -1.55" result="spk"/>
<feComposite in="spk" in2="shape" operator="in" result="spk2"/>
<feMerge><feMergeNode in="shape"/><feMergeNode in="spk2"/></feMerge>
</filter>
<path filter="url(#rough)" d="M697.3 479 C698 474 701 470 702.2 466.3 C700 463 700 460 701.2 457.5 C703 453.5 706 451 709 448.8 C712 446 715 443.5 718.8 441.9 C724 438.5 729 436 734.4 435.1 C740 434.5 746 435.5 750 438 C752.5 440.5 754 444 755.8 446.8 C761 445 766.5 443.8 771.4 444.9 C777 447 782.5 450.5 787 454.6 C789 457.5 789 461 788 464.4 C786.5 468.5 784 471.5 781.2 474.1 C779 476 776 477 773.4 478 C774 483 773.5 488 771.4 491.7 C766.5 494.5 761 495.8 755.8 495.6 C748.5 495 741 493 734.4 491.7 C727 493 720 495 712.9 494.6 C710 492 709 489 709 485.8 C704.5 484.5 700 482 697.3 479 Z" fill="#1d2123"/>

<!-- icon circles -->
<circle cx="582.4" cy="619" r="42.7" fill="#fff"/><circle cx="582.4" cy="619" r="40.5" fill="#d0d0d2"/>
<circle cx="706.7" cy="619" r="42.7" fill="#fff"/><circle cx="706.7" cy="619" r="40.5" fill="#d0d0d2"/>
<circle cx="830.6" cy="619" r="42.7" fill="#fff"/><circle cx="830.6" cy="619" r="40.5" fill="#d0d0d2"/>
<circle cx="960.9" cy="619" r="42.7" fill="#fff"/><circle cx="960.9" cy="619" r="40.5" fill="#d0d0d2"/>
<clipPath id="ic3"><circle cx="830.6" cy="619" r="40.3"/></clipPath><clipPath id="ic4"><circle cx="960.9" cy="619" r="40.3"/></clipPath><clipPath id="ic2"><circle cx="706.7" cy="619" r="40.3"/></clipPath>
<g clip-path="url(#ic4)"><path d="M978 596 L1010 628 L1010 680 L978 649 L944 649 L975 680 L1010 680 Z" fill="#9a9a9c" opacity="0.45" filter="url(#blur2)"/></g>
<g clip-path="url(#ic3)"><ellipse cx="848" cy="632" rx="22" ry="24" fill="#9a9a9c" opacity="0.4" filter="url(#blur4)"/></g>
<g clip-path="url(#ic2)"><ellipse cx="712" cy="640" rx="28" ry="7" fill="#9a9a9c" opacity="0.5" filter="url(#blur4)"/></g>
<g fill="#1f1f21">
<path d="M557.8 613 L557.8 637 Q557.8 641.4 564 641.4 L580 641.4 Q585.9 641.4 585.9 637 L585.9 613 Z"/>
<ellipse cx="571.9" cy="613" rx="15.6" ry="4.4"/>
<path d="M557.8 612.5 C557.5 601 563 595.2 571 595.2 C580 595.2 586.5 601 586.4 612.5" fill="none" stroke="#1f1f21" stroke-width="1.7"/>
</g>
<ellipse cx="571.9" cy="613.6" rx="13.6" ry="2.9" fill="none" stroke="#cfcfd1" stroke-width="0.9"/>
<path d="M562 617.2 C566 618.6 577 618.6 581.4 617 C581.6 619 580.6 620.5 578 621 C576.6 621.4 575.8 621 575.2 622 C574.4 623.6 574.6 626.5 573.2 626.6 C572 626.6 572.2 623.5 571 623.2 C569.8 623 569.6 626 569.4 629 C569.2 631.6 568 632.4 566.6 632.2 C565 632 564.8 630 564.6 627.5 C564.4 624 563.6 620.5 562 617.2 Z" fill="#cfcfd1"/>
<g fill="#1f1f21">
<path d="M597.9 595 C600 595 601.3 597.5 601.2 601 C601 606 599.8 611 600.2 617.5 L595.4 617.5 C595.8 611 594.6 606 594.5 601 C594.4 597.5 595.8 595 597.9 595 Z"/>
<rect x="589.2" y="618.8" width="18" height="4.2" rx="0.8"/>
<path d="M590.2 623.6 L606.4 623.6 L608.4 641.4 L606.6 639 L605.6 641.4 L604.2 638.6 L603 641.4 L601.4 638.4 L600 641.4 L598.6 638.6 L597 641.4 L595.6 638.4 L594.2 641.4 L592.8 638.8 L591.6 641.4 L590.2 639.2 L587.9 641.4 Z"/>
</g>
<path d="M672.6 615.6 C673.5 613.6 677 613.4 680 614 C684 614.8 687 617 688.6 620.6 L689.6 618 C691 620.5 693.5 622.8 699.6 627.2 L699.4 622.6 C701.5 624.6 705 626.6 712.4 628.4 L710.2 622.8 C712.5 624 715 624.6 717.2 624.4 C720.5 624 723.5 622.6 726.4 621 L723.4 617 C726.5 617 729.5 616.2 732.2 615 L734.2 617.8 C735.4 613 736.8 607.6 738.1 602.2 L739.3 604 C739.4 607.5 739 611 738.2 614 C737.8 617 737.4 620 736.9 623.2 L734.3 623 C734.4 625 734 627 733.2 628.8 C732 631.2 730.5 633 728.6 634.2 C726.6 635.6 724.4 636.8 722.2 637.8 L720.2 635 C719.8 637 719.2 638.8 718.2 640.4 C715.6 641.8 713 642.6 710.2 643 C706.2 643.4 702.2 642.8 698.2 641.6 L703.6 638.4 C699.5 638.8 695.5 638.4 691.6 637.6 C689.5 636.6 687.8 635.2 686.3 633.6 C683 632.6 679.8 631 677 629 L679.8 627.6 C677.6 626.4 675.8 624.6 674.5 622.8 C673.3 620.6 672.6 618 672.6 615.6 Z" fill="#1f1f21" stroke="#1f1f21" stroke-width="0.8" stroke-linejoin="round"/>
<path d="M679.8 624.2 C697.0 632.2 707.6 633.2 715.6 632.2 S730.2 630.9 734.1 617.6" fill="none" stroke="#cfcfd1" stroke-width="0.8"/>
<g>
<ellipse cx="819.5" cy="619.2" rx="18.6" ry="29.8" fill="#1f1f21"/>
<rect x="819.5" y="589.4" width="20" height="59.6" fill="#1f1f21"/>
<g clip-path="url(#treadclip)" stroke="#cfcfd1" fill="none">
<ellipse cx="827.5" cy="619.2" rx="18.6" ry="29.6" stroke-width="1"/>
<ellipse cx="835" cy="619.2" rx="18.6" ry="29.6" stroke-width="0.8"/>
<ellipse cx="823" cy="619.2" rx="18.6" ry="29.6" stroke-width="0.6" stroke-dasharray="2.5 2"/>
<ellipse cx="831.3" cy="619.2" rx="18.6" ry="29.6" stroke-width="2.2" stroke-dasharray="0.9 3.2"/>
<ellipse cx="825" cy="619.2" rx="18.6" ry="29.6" stroke-width="2.4" stroke-dasharray="0.9 3.2" stroke-dashoffset="2"/>
<ellipse cx="820.6" cy="619.2" rx="18.6" ry="29.6" stroke-width="1.8" stroke-dasharray="0.9 3.2"/>
</g>
<ellipse cx="839.3" cy="619.2" rx="18.6" ry="29.8" fill="#1f1f21"/>
<ellipse cx="839.9" cy="619.8" rx="11" ry="19" fill="none" stroke="#cfcfd1" stroke-width="1.4"/>
<path d="M833.4 606 C830.6 612 829.8 626 833.6 633.6 C836 630 836.4 626 835.4 621 C834.6 616 835 611 833.4 606 Z" fill="#cfcfd1"/>
</g>
<clipPath id="treadclip"><path d="M795 585 L839 585 L839 589.4 A18.6 29.8 0 0 0 839 649 L839 655 L795 655 Z"/></clipPath>
<rect x="954.3" y="591.2" width="13" height="8" fill="#b9b9bb" stroke="#1f1f21" stroke-width="3.2"/>
<rect x="944.8" y="597.4" width="31.7" height="50.1" fill="#fff" stroke="#1f1f21" stroke-width="3.3"/>
<path d="M947 609.7 L974.5 609.7 M947 622.3 L974.5 622.3 M947 634.2 L974.5 634.2" stroke="#b2b2b4" stroke-width="1.5"/>
<path d="M966.4 607.6 L952.2 624.6 L959.2 624.6 L953.6 639 L969.2 620 L961.6 620 Z" fill="#1f1f21"/>

<!-- solar panel -->
<g fill="#fff" stroke="#fff" stroke-width="1.2" stroke-linejoin="round">
<path d="M54.3 431.4 L68.5 433.4 L74.2 437.4 L77.0 447.3 L73.1 450.1 L58.9 448.6 L53.2 444.6 L50.5 434.2 Z"/>
<path d="M81.8 435.2 L94.5 437.0 L99.7 440.7 L102.5 450.2 L99.2 452.9 L86.4 451.6 L81.2 447.8 L78.4 437.9 Z"/>
<path d="M106.6 438.7 L118.4 440.3 L123.3 443.9 L126.1 452.9 L123.1 455.5 L111.3 454.2 L106.4 450.7 L103.6 441.2 Z"/>
<path d="M129.5 441.8 L140.2 443.3 L144.7 446.7 L147.5 455.4 L144.9 457.9 L134.2 456.7 L129.7 453.3 L126.9 444.3 Z"/>
<path d="M150.2 444.7 L160.0 446.1 L164.2 449.3 L167.0 457.6 L164.7 460.0 L155.0 458.9 L150.7 455.7 L147.9 447.1 Z"/>
<path d="M60.0 452.8 L74.3 454.2 L80.0 458.1 L82.9 468.6 L79.1 471.8 L64.9 470.8 L59.2 466.8 L56.2 455.9 Z"/>
<path d="M87.5 455.5 L100.3 456.8 L105.5 460.5 L108.5 470.6 L105.2 473.6 L92.5 472.7 L87.2 468.9 L84.3 458.5 Z"/>
<path d="M112.4 458.0 L124.3 459.2 L129.2 462.8 L132.2 472.4 L129.3 475.3 L117.4 474.4 L112.4 470.8 L109.4 460.9 Z"/>
<path d="M135.4 460.3 L146.0 461.4 L150.6 464.8 L153.6 474.0 L151.1 476.8 L140.4 476.1 L135.8 472.6 L132.8 463.1 Z"/>
<path d="M156.1 462.4 L165.9 463.4 L170.2 466.7 L173.2 475.5 L171.0 478.2 L161.2 477.5 L156.9 474.3 L153.9 465.1 Z"/>
<path d="M66.1 475.2 L80.3 476.1 L86.2 480.3 L89.4 491.9 L85.7 495.6 L71.4 495.1 L65.6 490.9 L62.4 479.0 Z"/>
<path d="M93.7 477.0 L106.4 477.8 L111.8 481.7 L115.1 492.8 L111.9 496.4 L99.1 496.0 L93.7 492.0 L90.5 480.5 Z"/>
<path d="M118.6 478.5 L130.5 479.3 L135.6 483.1 L138.9 493.8 L136.0 497.2 L124.1 496.8 L119.0 493.0 L115.7 481.9 Z"/>
<path d="M141.6 480.0 L152.3 480.7 L157.0 484.3 L160.4 494.6 L157.9 497.9 L147.2 497.6 L142.5 493.9 L139.2 483.3 Z"/>
<path d="M162.4 481.3 L172.2 481.9 L176.6 485.5 L180.1 495.4 L177.9 498.6 L168.1 498.3 L163.7 494.8 L160.3 484.5 Z"/>
<path d="M72.6 499.6 L87.0 500.0 L92.8 503.8 L95.9 514.9 L92.1 518.6 L77.7 518.6 L71.9 514.7 L68.9 503.3 Z"/>
<path d="M100.3 500.4 L113.2 500.7 L118.5 504.4 L121.7 515.1 L118.5 518.7 L105.5 518.6 L100.2 515.0 L97.1 503.9 Z"/>
<path d="M125.4 501.0 L137.3 501.3 L142.4 504.9 L145.6 515.3 L142.7 518.7 L130.7 518.7 L125.6 515.1 L122.5 504.5 Z"/>
<path d="M148.5 501.7 L159.2 501.9 L163.9 505.4 L167.2 515.5 L164.7 518.8 L153.9 518.8 L149.2 515.3 L146.0 505.0 Z"/>
<path d="M169.4 502.2 L179.2 502.5 L183.6 505.9 L187.0 515.6 L184.8 518.9 L174.9 518.8 L170.5 515.5 L167.2 505.5 Z"/>
</g>
<path d="M30.0 420.0 L164.6 444.1 L199.1 525.0 L68.7 530.6 Z M36.7 426.3 L71.8 525.4 L192.7 523.1 L160.5 448.5 Z" fill="#bfbfc2" fill-rule="evenodd"/>
<path d="M68.7 530.6 L199.1 525.0 L197.6 527.6 L69.7 532.6 Z" fill="#adadb0"/>
<g fill="#fff">
<rect x="55" y="544.7" width="41.1" height="4.1"/><rect x="55" y="552" width="35.2" height="4"/>
<rect x="85.4" y="533.4" width="4.8" height="22.6"/><rect x="91.3" y="533.4" width="4.8" height="15.4"/>
</g>
<rect x="7.7" y="536.1" width="48.2" height="34.9" rx="4.5" fill="#ffec00"/>
<path d="M28.5 539.3 L35.4 539.3 L33.1 548.1 L37.4 548.5 L36.0 557.6 L37.6 557.8 L33.5 566.9 L32.2 560.3 L30.1 560.0 L31.4 551.7 L26.3 551.1 Z" fill="#8cae1c"/>

<!-- grass -->
<path d="M9.2 519.0 L6.8 514.9 L11.1 519.0 Z M10.0 519.0 L9.1 510.9 L11.9 519.0 Z M10.9 519.0 L11.4 513.3 L12.7 519.0 Z M11.5 519.0 L13.2 508.5 L13.3 519.0 Z M12.2 519.0 L15.3 512.6 L14.1 519.0 Z M13.2 519.0 L18.1 515.2 L15.1 519.0 Z " fill="#95ba22"/>
<path d="M23.2 509.0 L20.8 505.0 L25.1 509.0 Z M24.0 509.0 L23.1 500.9 L25.9 509.0 Z M24.9 509.0 L25.4 503.4 L26.7 509.0 Z M25.5 509.0 L27.2 498.6 L27.3 509.0 Z M26.2 509.0 L29.3 502.7 L28.1 509.0 Z M27.2 509.0 L32.1 505.3 L29.1 509.0 Z " fill="#95ba22"/>
<path d="M35.2 501.4 L32.8 497.3 L37.1 501.4 Z M36.0 501.4 L35.1 493.3 L37.9 501.4 Z M36.9 501.4 L37.4 495.7 L38.7 501.4 Z M37.5 501.4 L39.2 491.0 L39.3 501.4 Z M38.2 501.4 L41.3 495.0 L40.1 501.4 Z M39.2 501.4 L44.1 497.6 L41.1 501.4 Z " fill="#95ba22"/>
<path d="M55.2 489.7 L52.8 485.6 L57.1 489.7 Z M56.0 489.7 L55.1 481.6 L57.9 489.7 Z M56.9 489.7 L57.4 484.0 L58.7 489.7 Z M57.5 489.7 L59.2 479.2 L59.3 489.7 Z M58.2 489.7 L61.3 483.3 L60.1 489.7 Z M59.2 489.7 L64.1 485.9 L61.1 489.7 Z " fill="#95ba22"/>
<path d="M169.2 441.3 L166.8 437.3 L171.1 441.3 Z M170.0 441.3 L169.1 433.2 L171.9 441.3 Z M170.9 441.3 L171.4 435.7 L172.7 441.3 Z M171.5 441.3 L173.2 430.9 L173.3 441.3 Z M172.2 441.3 L175.3 435.0 L174.1 441.3 Z M173.2 441.3 L178.1 437.6 L175.1 441.3 Z " fill="#8db522"/>
<path d="M178.2 438.2 L175.8 434.1 L180.1 438.2 Z M179.0 438.2 L178.1 430.1 L180.9 438.2 Z M179.9 438.2 L180.4 432.5 L181.7 438.2 Z M180.5 438.2 L182.2 427.7 L182.3 438.2 Z M181.2 438.2 L184.3 431.8 L183.1 438.2 Z M182.2 438.2 L187.1 434.4 L184.1 438.2 Z " fill="#8db522"/>
<path d="M188.2 434.7 L185.8 430.6 L190.1 434.7 Z M189.0 434.7 L188.1 426.5 L190.9 434.7 Z M189.9 434.7 L190.4 429.0 L191.7 434.7 Z M190.5 434.7 L192.2 424.2 L192.3 434.7 Z M191.2 434.7 L194.3 428.3 L193.1 434.7 Z M192.2 434.7 L197.1 430.9 L194.1 434.7 Z " fill="#8db522"/>
<path d="M205.2 427.9 L202.8 423.9 L207.1 427.9 Z M206.0 427.9 L205.1 419.8 L207.9 427.9 Z M206.9 427.9 L207.4 422.3 L208.7 427.9 Z M207.5 427.9 L209.2 417.5 L209.3 427.9 Z M208.2 427.9 L211.3 421.5 L210.1 427.9 Z M209.2 427.9 L214.1 424.2 L211.1 427.9 Z " fill="#8ab422"/>
<path d="M219.2 422.2 L216.8 418.1 L221.1 422.2 Z M220.0 422.2 L219.1 414.1 L221.9 422.2 Z M220.9 422.2 L221.4 416.6 L222.7 422.2 Z M221.5 422.2 L223.2 411.8 L223.3 422.2 Z M222.2 422.2 L225.3 415.8 L224.1 422.2 Z M223.2 422.2 L228.1 418.4 L225.1 422.2 Z " fill="#8ab422"/>
<path d="M233.2 418.5 L230.8 414.4 L235.1 418.5 Z M234.0 418.5 L233.1 410.4 L235.9 418.5 Z M234.9 418.5 L235.4 412.8 L236.7 418.5 Z M235.5 418.5 L237.2 408.1 L237.3 418.5 Z M236.2 418.5 L239.3 412.1 L238.1 418.5 Z M237.2 418.5 L242.1 414.7 L239.1 418.5 Z " fill="#88b323"/>
<path d="M249.2 414.3 L246.8 410.2 L251.1 414.3 Z M250.0 414.3 L249.1 406.1 L251.9 414.3 Z M250.9 414.3 L251.4 408.6 L252.7 414.3 Z M251.5 414.3 L253.2 403.8 L253.3 414.3 Z M252.2 414.3 L255.3 407.9 L254.1 414.3 Z M253.2 414.3 L258.1 410.5 L255.1 414.3 Z " fill="#86b223"/>
<path d="M280.2 407.4 L277.8 403.4 L282.1 407.4 Z M281.0 407.4 L280.1 399.3 L282.9 407.4 Z M281.9 407.4 L282.4 401.8 L283.7 407.4 Z M282.5 407.4 L284.2 397.0 L284.3 407.4 Z M283.2 407.4 L286.3 401.0 L285.1 407.4 Z M284.2 407.4 L289.1 403.7 L286.1 407.4 Z " fill="#82b024"/>
<path d="M297.2 404.7 L294.8 400.6 L299.1 404.7 Z M298.0 404.7 L297.1 396.6 L299.9 404.7 Z M298.9 404.7 L299.4 399.0 L300.7 404.7 Z M299.5 404.7 L301.2 394.3 L301.3 404.7 Z M300.2 404.7 L303.3 398.3 L302.1 404.7 Z M301.2 404.7 L306.1 400.9 L303.1 404.7 Z " fill="#80af24"/>
<path d="M315.2 401.8 L312.8 397.8 L317.1 401.8 Z M316.0 401.8 L315.1 393.7 L317.9 401.8 Z M316.9 401.8 L317.4 396.2 L318.7 401.8 Z M317.5 401.8 L319.2 391.4 L319.3 401.8 Z M318.2 401.8 L321.3 395.4 L320.1 401.8 Z M319.2 401.8 L324.1 398.1 L321.1 401.8 Z " fill="#7eae25"/>
<path d="M334.2 398.0 L331.8 393.9 L336.1 398.0 Z M335.0 398.0 L334.1 389.9 L336.9 398.0 Z M335.9 398.0 L336.4 392.4 L337.7 398.0 Z M336.5 398.0 L338.2 387.6 L338.3 398.0 Z M337.2 398.0 L340.3 391.6 L339.1 398.0 Z M338.2 398.0 L343.1 394.2 L340.1 398.0 Z " fill="#7cad25"/>
<path d="M372.2 392.1 L369.8 388.1 L374.1 392.1 Z M373.0 392.1 L372.1 384.0 L374.9 392.1 Z M373.9 392.1 L374.4 386.5 L375.7 392.1 Z M374.5 392.1 L376.2 381.7 L376.3 392.1 Z M375.2 392.1 L378.3 385.7 L377.1 392.1 Z M376.2 392.1 L381.1 388.3 L378.1 392.1 Z " fill="#78ab26"/>
<path d="M389.2 390.3 L386.8 386.3 L391.1 390.3 Z M390.0 390.3 L389.1 382.2 L391.9 390.3 Z M390.9 390.3 L391.4 384.7 L392.7 390.3 Z M391.5 390.3 L393.2 379.9 L393.3 390.3 Z M392.2 390.3 L395.3 384.0 L394.1 390.3 Z M393.2 390.3 L398.1 386.6 L395.1 390.3 Z " fill="#76aa26"/>
<path d="M407.2 388.7 L404.8 384.7 L409.1 388.7 Z M408.0 388.7 L407.1 380.6 L409.9 388.7 Z M408.9 388.7 L409.4 383.1 L410.7 388.7 Z M409.5 388.7 L411.2 378.3 L411.3 388.7 Z M410.2 388.7 L413.3 382.3 L412.1 388.7 Z M411.2 388.7 L416.1 384.9 L413.1 388.7 Z " fill="#74a927"/>
<path d="M425.2 387.3 L422.8 383.2 L427.1 387.3 Z M426.0 387.3 L425.1 379.2 L427.9 387.3 Z M426.9 387.3 L427.4 381.6 L428.7 387.3 Z M427.5 387.3 L429.2 376.8 L429.3 387.3 Z M428.2 387.3 L431.3 380.9 L430.1 387.3 Z M429.2 387.3 L434.1 383.5 L431.1 387.3 Z " fill="#72a827"/>
<path d="M601.1 387.7 L598.6 383.5 L603.1 387.7 Z M602.0 387.7 L601.0 379.3 L603.9 387.7 Z M602.8 387.7 L603.4 381.8 L604.8 387.7 Z M603.4 387.7 L605.2 376.9 L605.4 387.7 Z M604.2 387.7 L607.5 381.1 L606.2 387.7 Z M605.2 387.7 L610.3 383.8 L607.2 387.7 Z " fill="#4f9a2d"/>
<path d="M652.1 388.2 L649.6 384.0 L654.1 388.2 Z M653.0 388.2 L652.0 379.8 L654.9 388.2 Z M653.8 388.2 L654.4 382.4 L655.8 388.2 Z M654.4 388.2 L656.2 377.4 L656.4 388.2 Z M655.2 388.2 L658.5 381.6 L657.2 388.2 Z M656.2 388.2 L661.3 384.3 L658.2 388.2 Z " fill="#4a972e"/>
<path d="M687.1 388.2 L684.6 384.0 L689.1 388.2 Z M688.0 388.2 L687.0 379.8 L689.9 388.2 Z M688.8 388.2 L689.4 382.3 L690.8 388.2 Z M689.4 388.2 L691.2 377.4 L691.4 388.2 Z M690.2 388.2 L693.5 381.6 L692.2 388.2 Z M691.2 388.2 L696.3 384.3 L693.2 388.2 Z " fill="#47952f"/>
<path d="M738.1 386.7 L735.6 382.5 L740.1 386.7 Z M739.0 386.7 L738.0 378.3 L740.9 386.7 Z M739.8 386.7 L740.4 380.8 L741.8 386.7 Z M740.4 386.7 L742.2 375.9 L742.4 386.7 Z M741.2 386.7 L744.5 380.1 L743.2 386.7 Z M742.2 386.7 L747.3 382.8 L744.2 386.7 Z " fill="#3f9030"/>
<path d="M767.1 385.8 L764.6 381.6 L769.1 385.8 Z M768.0 385.8 L767.0 377.4 L769.9 385.8 Z M768.8 385.8 L769.4 379.9 L770.8 385.8 Z M769.4 385.8 L771.2 375.0 L771.4 385.8 Z M770.2 385.8 L773.5 379.2 L772.2 385.8 Z M771.2 385.8 L776.3 381.9 L773.2 385.8 Z " fill="#3b8e31"/>
<path d="M797.1 384.5 L794.6 380.3 L799.1 384.5 Z M798.0 384.5 L797.0 376.1 L799.9 384.5 Z M798.8 384.5 L799.4 378.6 L800.8 384.5 Z M799.4 384.5 L801.2 373.7 L801.4 384.5 Z M800.2 384.5 L803.5 377.9 L802.2 384.5 Z M801.2 384.5 L806.3 380.6 L803.2 384.5 Z " fill="#378b32"/>
<path d="M825.1 383.0 L822.6 378.8 L827.1 383.0 Z M826.0 383.0 L825.0 374.6 L827.9 383.0 Z M826.8 383.0 L827.4 377.1 L828.8 383.0 Z M827.4 383.0 L829.2 372.2 L829.4 383.0 Z M828.2 383.0 L831.5 376.4 L830.2 383.0 Z M829.2 383.0 L834.3 379.1 L831.2 383.0 Z " fill="#348932"/>
<path d="M881.1 379.6 L878.6 375.4 L883.1 379.6 Z M882.0 379.6 L881.0 371.2 L883.9 379.6 Z M882.8 379.6 L883.4 373.8 L884.8 379.6 Z M883.4 379.6 L885.2 368.8 L885.4 379.6 Z M884.2 379.6 L887.5 373.0 L886.2 379.6 Z M885.2 379.6 L890.3 375.7 L887.2 379.6 Z " fill="#2c8434"/>
<path d="M904.1 377.1 L901.6 372.9 L906.1 377.1 Z M905.0 377.1 L904.0 368.7 L906.9 377.1 Z M905.8 377.1 L906.4 371.3 L907.8 377.1 Z M906.4 377.1 L908.2 366.3 L908.4 377.1 Z M907.2 377.1 L910.5 370.5 L909.2 377.1 Z M908.2 377.1 L913.3 373.2 L910.2 377.1 Z " fill="#298235"/>
<path d="M932.1 374.1 L929.6 369.9 L934.1 374.1 Z M933.0 374.1 L932.0 365.7 L934.9 374.1 Z M933.8 374.1 L934.4 368.3 L935.8 374.1 Z M934.4 374.1 L936.2 363.3 L936.4 374.1 Z M935.2 374.1 L938.5 367.5 L937.2 374.1 Z M936.2 374.1 L941.3 370.2 L938.2 374.1 Z " fill="#277f36"/>
<path d="M955.1 371.5 L952.6 367.3 L957.1 371.5 Z M956.0 371.5 L955.0 363.1 L957.9 371.5 Z M956.8 371.5 L957.4 365.7 L958.8 371.5 Z M957.4 371.5 L959.2 360.7 L959.4 371.5 Z M958.2 371.5 L961.5 364.9 L960.2 371.5 Z M959.2 371.5 L964.3 367.6 L961.2 371.5 Z " fill="#247d37"/>
<path d="M1009.1 365.0 L1006.6 360.8 L1011.1 365.0 Z M1010.0 365.0 L1009.0 356.6 L1011.9 365.0 Z M1010.8 365.0 L1011.4 359.1 L1012.8 365.0 Z M1011.4 365.0 L1013.2 354.2 L1013.4 365.0 Z M1012.2 365.0 L1015.5 358.4 L1014.2 365.0 Z M1013.2 365.0 L1018.3 361.1 L1015.2 365.0 Z " fill="#1d7939"/>

<g font-weight="bold" fill="#fff" font-size="19.5">
<text x="167.5" y="570.5" text-anchor="middle" textLength="111" lengthAdjust="spacingAndGlyphs">Fotovoltaik</text>
<text x="167.5" y="595" text-anchor="middle" textLength="98" lengthAdjust="spacingAndGlyphs">Windkraft</text>
<text x="320" y="654.5" textLength="64" lengthAdjust="spacingAndGlyphs">Erdgas</text>
<text x="320" y="679.4" textLength="63.4" lengthAdjust="spacingAndGlyphs">Biogas</text>
</g>
<g font-weight="bold" fill="#fff" font-size="19">
<text x="539" y="686.8" textLength="86.4" lengthAdjust="spacingAndGlyphs">Pigmente</text>
<text x="662.9" y="686.8" textLength="88" lengthAdjust="spacingAndGlyphs">Leichtbau</text>
<text x="787.8" y="686.8" textLength="85.7" lengthAdjust="spacingAndGlyphs">Polymere</text>
<text x="919.6" y="686.8" textLength="82" lengthAdjust="spacingAndGlyphs">HighTech</text>
</g>
<g font-weight="bold" fill="#1c1c1c" font-size="19.5">
<text x="514" y="404.6" text-anchor="middle" textLength="84" lengthAdjust="spacingAndGlyphs">flüssiges</text>
<text x="513.5" y="430.5" text-anchor="middle" textLength="61.5" lengthAdjust="spacingAndGlyphs">Metall</text>
</g>

<!-- border -->
<rect x="0" y="0" width="1024" height="1.2" fill="#06192b"/>
<rect x="0" y="0" width="1.1" height="718" fill="#0a1a14"/>
<rect x="0" y="716.7" width="1024" height="1.3" fill="#06190b"/>
<rect x="1022.8" y="0" width="1.2" height="718" fill="#06191a"/>

</svg>
</body></html>
